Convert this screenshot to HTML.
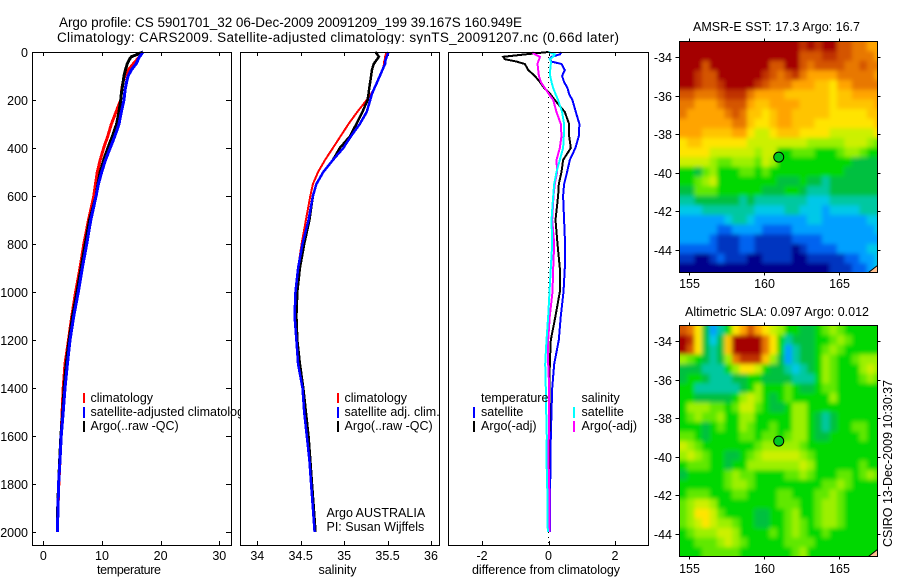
<!DOCTYPE html>
<html>
<head>
<meta charset="utf-8">
<title>Argo profile</title>
<style>
html,body{margin:0;padding:0;background:#fff;}
svg{display:block;}
text{font-family:"Liberation Sans",sans-serif;font-size:12.5px;fill:#000;}
.crisp{shape-rendering:crispEdges;}
</style>
</head>
<body>
<svg id="fig" width="900" height="580" viewBox="0 0 900 580" xmlns="http://www.w3.org/2000/svg">
  <defs>
    <clipPath id="clip-sst"><rect x="679.5" y="41.5" width="198" height="231"/></clipPath>
    <clipPath id="clip-sla"><rect x="679.5" y="325.5" width="198" height="231"/></clipPath>
    <filter id="soften" x="-10%" y="-10%" width="120%" height="120%"><feGaussianBlur stdDeviation="2"/></filter>
  </defs>
  <rect x="0" y="0" width="900" height="580" fill="#fff"/>
  <text x="59" y="27" style="font-size:13.5px" textLength="463" lengthAdjust="spacing">Argo profile: CS 5901701_32 06-Dec-2009 20091209_199 39.167S 160.949E</text>
  <text x="57" y="42" style="font-size:13.5px" textLength="562" lengthAdjust="spacing">Climatology: CARS2009. Satellite-adjusted climatology: synTS_20091207.nc (0.66d later)</text>

  <g id="p1"></g>
  <g>
    <rect x="83" y="393" width="2" height="10" fill="#f00"/>
    <rect x="83" y="407" width="2" height="11" fill="#00f"/>
    <rect x="83" y="421" width="2" height="11" fill="#000"/>
    <text x="90.5" y="402">climatology</text>
    <text x="90.5" y="416">satellite-adjusted climatology</text>
    <text x="90.5" y="430">Argo(..raw -QC)</text>
  </g>
  <rect x="240" y="44" width="200" height="505" fill="#fff"/>

  <g id="p2"></g>
  <g>
    <rect x="337" y="393" width="2" height="10" fill="#f00"/>
    <rect x="337" y="407" width="2" height="11" fill="#00f"/>
    <rect x="337" y="421" width="2" height="11" fill="#000"/>
    <text x="344.5" y="402">climatology</text>
    <text x="344.5" y="416">satellite adj. clim.</text>
    <text x="344.5" y="430">Argo(..raw -QC)</text>
    <text x="326.5" y="517">Argo AUSTRALIA</text>
    <text x="326.5" y="531">PI: Susan Wijffels</text>
  </g>

  <g id="p3"></g>
  <g>
    <text x="481" y="402">temperature</text>
    <rect x="473" y="407" width="2" height="11" fill="#00f"/>
    <text x="481" y="416">satellite</text>
    <rect x="473" y="421" width="2" height="11" fill="#000"/>
    <text x="481" y="430">Argo(-adj)</text>
    <text x="581.5" y="402">salinity</text>
    <rect x="573" y="407" width="2" height="11" fill="#0ff"/>
    <text x="581.5" y="416">satellite</text>
    <rect x="573" y="421" width="2" height="11" fill="#f0f"/>
    <text x="581.5" y="430">Argo(-adj)</text>
  </g>

  <g id="m1"></g>
  <g id="m2"></g>
  <text x="776.5" y="31" text-anchor="middle" textLength="167">AMSR-E SST: 17.3 Argo: 16.7</text>
  <text x="777" y="316" text-anchor="middle" textLength="184">Altimetric SLA: 0.097 Argo: 0.012</text>
  <text transform="translate(892,547) rotate(-90)" textLength="167">CSIRO 13-Dec-2009 10:30:37</text>
</svg>
<script>
// Shared depth axis
const depths = [0,10,20,30,40,50,75,100,125,150,175,200,250,300,350,400,450,500,550,600,700,800,900,1000,1100,1200,1300,1400,1500,1600,1700,1800,1900,2000];
const depthTicks = [0,200,400,600,800,1000,1200,1400,1600,1800,2000];

// Temperature panel
const tempTicks = [0,10,20,30];
const tempClim = [17,16.7,16.4,16,15.7,15.3,14.5,13.9,13.6,13.4,13.3,13.2,12.4,11.6,11,10.3,9.7,9.2,8.9,8.6,7.7,6.9,6.25,5.5,4.85,4.3,3.7,3.4,3.2,3.05,2.85,2.65,2.5,2.4];
const tempArgo = [17,16,15,14.7,14.5,14.3,14,13.75,13.6,13.45,13.3,13.2,12.9,12.5,11.8,11,10.3,9.7,9.3,9,7.9,7.15,6.45,5.75,5,4.4,3.9,3.55,3.3,3,2.8,2.6,2.45,2.4];
const tempSat = [17,16.7,16.4,16.2,16,15.8,15,14.45,14.2,14,13.85,13.75,13.3,12.9,12.2,11.4,10.6,9.95,9.4,9,8.1,7.4,6.65,5.96,5.2,4.55,4.1,3.7,3.4,3.05,2.85,2.6,2.5,2.4];

// Salinity panel
const salTicks = [34,34.5,35,35.5,36];
const salClim = [35.48,35.48,35.47,35.47,35.46,35.46,35.44,35.41,35.38,35.35,35.31,35.26,35.15,35.05,34.96,34.87,34.78,34.7,34.64,34.61,34.56,34.51,34.47,34.44,34.43,34.45,34.47,34.52,34.54,34.57,34.6,34.62,34.64,34.66];
const salArgo = [35.36,35.38,35.4,35.38,35.36,35.34,35.32,35.31,35.3,35.29,35.28,35.27,35.21,35.14,35.07,34.95,34.87,34.76,34.68,34.64,34.6,34.54,34.49,34.46,34.45,34.46,34.49,34.53,34.56,34.59,34.61,34.63,34.65,34.67];
const salSat = [35.51,35.5,35.49,35.48,35.47,35.47,35.44,35.41,35.38,35.35,35.32,35.3,35.26,35.18,35.08,34.99,34.87,34.76,34.68,34.64,34.59,34.52,34.47,34.44,34.43,34.45,34.47,34.52,34.54,34.57,34.6,34.62,34.64,34.66];

// Difference panel
const diffTicks = [-2,0,2];
const diffTempSat = [0.39,0.34,0.09,0.04,0.09,0.39,0.49,0.41,0.47,0.57,0.62,0.72,0.82,0.93,0.91,0.81,0.64,0.56,0.47,0.44,0.47,0.5,0.49,0.45,0.37,0.31,0.17,0.11,0.09,0.07,0.06,0.05,0.05,0.04];
const diffTempArgo = [0,-0.71,-1.36,-1.31,-0.96,-0.71,-0.61,-0.41,-0.26,-0.13,0.05,0.19,0.49,0.62,0.62,0.67,0.44,0.39,0.31,0.29,0.21,0.27,0.34,0.34,0.21,0.07,0.04,0.03,0.03,0.02,0.02,0.01,0.01,0];
const diffSalArgo = [-0.49,-0.41,-0.26,-0.28,-0.31,-0.33,-0.31,-0.29,-0.23,-0.11,0.01,0.14,0.24,0.37,0.39,0.34,0.24,0.26,0.19,0.15,0.11,0.17,0.14,0.12,0.04,-0.01,-0.01,0.02,0.02,0.01,0,0.02,0.03,0.03];
const diffSalSat = [0,0.19,0.14,0.04,0.07,0.07,0.05,0.05,0.09,0.14,0.21,0.29,0.41,0.47,0.46,0.44,0.34,0.24,0.17,0.14,0.09,0.11,0.07,0.03,-0.01,-0.06,-0.1,-0.08,-0.07,-0.05,-0.06,-0.04,-0.03,-0.02];

// Map axes
const lonTicks = [155,160,165];
const latTicks = [-34,-36,-38,-40,-42,-44];
const floatLon = [160.949];
const floatLat = [-39.167];

// Colour scale, by level
const levelColors = ['#00008c','#0034c0','#0064f0','#00a0ff','#00c8e8','#00c8a0','#00c040','#00d800','#60e800','#9cf000','#ccf000','#ffe400','#ffc400','#ffa400','#e87800','#d45400','#c03000','#a40000'];

// SST levels, 0.5 degree cells, north to south
const sstLevels = [
[17,17,17,17,17,17,17,17,17,17,17,17,17,17,17,17,16,17,16,17,17,15,15,14,14,13,13],
[17,17,17,17,17,17,17,17,17,17,17,17,17,17,17,17,15,15,15,16,16,15,15,14,14,14,13],
[17,17,17,15,17,17,17,17,17,17,17,17,15,15,17,17,15,14,15,15,15,15,14,14,15,14,14],
[17,17,16,15,15,17,17,17,17,17,17,16,15,14,15,16,14,13,13,13,13,14,14,14,14,14,13],
[17,17,16,15,15,16,17,17,17,17,16,15,14,14,14,13,13,13,12,12,11,13,13,14,14,14,14],
[15,15,14,14,14,15,16,16,16,14,13,13,13,13,12,12,12,12,12,12,11,12,12,13,13,13,13],
[14,14,13,13,13,14,15,15,15,13,12,12,13,13,13,13,12,12,12,12,11,12,12,12,12,12,13],
[14,13,13,13,13,13,14,15,14,12,12,11,12,13,13,12,12,12,12,12,11,11,11,11,11,12,12],
[13,13,13,13,13,13,13,14,14,12,11,11,12,13,13,12,12,12,11,11,11,11,11,11,11,11,12],
[13,13,13,12,12,12,12,13,13,11,10,10,11,12,12,12,11,11,11,11,10,10,10,10,10,10,11],
[11,12,12,11,11,11,11,11,11,10,10,10,10,10,10,10,10,9,9,9,9,9,10,10,10,9,8],
[11,11,11,11,10,10,10,10,10,10,9,10,10,7,7,8,8,8,7,7,7,8,9,9,8,7,7],
[10,10,10,10,9,8,8,9,9,9,8,10,9,7,7,7,7,7,7,7,7,7,7,6,6,6,6],
[7,7,6,8,9,7,7,7,8,8,7,8,7,7,7,7,7,7,7,7,7,7,6,6,6,6,6],
[7,7,8,9,10,7,7,7,7,7,7,7,7,6,6,6,7,6,6,5,6,6,6,6,6,6,6],
[6,6,8,8,8,7,7,7,7,7,7,6,6,6,7,7,6,5,5,5,6,6,6,6,6,6,6],
[5,5,6,6,6,6,6,6,5,6,5,5,5,5,5,5,5,4,4,4,5,5,5,5,5,5,5],
[4,4,4,5,5,5,5,5,5,5,4,4,4,4,5,5,4,4,4,3,4,4,4,4,5,5,5],
[3,3,3,3,3,3,4,5,5,4,3,3,3,3,3,3,3,4,4,3,3,3,3,3,3,4,4],
[3,3,3,3,3,2,2,3,3,3,3,2,2,2,2,3,3,3,3,3,3,3,3,3,3,3,4],
[3,3,3,3,2,1,1,1,2,2,1,1,1,1,1,2,2,2,2,3,3,3,3,3,3,3,3],
[2,2,2,2,2,1,1,1,2,2,1,1,1,1,1,0,1,2,2,2,2,3,3,3,3,4,4],
[1,1,0,0,1,2,1,1,1,0,0,1,1,1,1,0,0,1,1,1,1,1,2,2,3,3,4],
[0,0,0,0,0,0,0,0,0,0,0,0,0,0,0,0,0,0,0,0,1,1,1,2,2,3,4]
];

// SLA levels, 0.5 degree cells, north to south
const slaLevels = [
[15,14,11,6,3,5,7,11,13,15,13,11,10,9,7,7,6,6,7,8,9,8,7,7,7,7,7],
[17,16,11,6,4,6,12,17,17,17,17,14,11,7,5,6,6,6,7,7,8,9,8,7,7,7,7],
[17,15,11,6,5,6,12,17,17,17,17,14,11,7,3,5,6,6,7,8,9,8,7,7,7,7,7],
[9,8,7,6,5,6,9,14,16,16,16,12,9,6,3,5,6,6,7,9,8,7,7,8,9,9,9],
[6,6,6,5,5,5,7,9,11,11,10,7,6,6,5,4,5,6,7,9,8,7,7,7,9,10,9],
[6,7,7,6,5,5,5,6,6,7,7,6,6,6,6,5,5,5,7,9,8,7,7,7,8,9,8],
[7,7,5,5,5,5,5,5,6,7,9,7,7,7,8,7,6,6,7,8,8,7,7,7,7,7,7],
[7,7,6,6,6,6,6,7,9,10,9,7,6,7,8,7,7,7,7,7,9,7,7,7,7,7,7],
[7,9,9,9,8,8,7,8,10,10,8,7,6,6,7,9,9,7,7,7,7,7,7,7,7,7,7],
[7,8,9,8,8,9,7,7,9,9,7,7,7,7,7,9,9,7,6,5,6,7,7,7,7,7,7],
[7,7,7,6,7,8,7,7,9,8,7,7,8,7,7,9,9,7,6,5,6,7,7,8,8,7,7],
[8,8,7,6,7,7,7,7,8,8,7,8,8,7,8,9,9,7,6,6,7,7,7,7,8,7,7],
[10,9,8,7,7,7,7,7,7,7,8,9,9,9,9,9,8,7,7,7,7,7,7,7,7,7,7],
[9,10,9,8,7,7,6,6,7,8,9,10,10,10,10,10,9,8,7,7,7,7,7,7,7,7,7],
[7,8,8,8,7,7,6,7,7,9,9,9,9,9,9,9,10,9,7,7,7,7,7,7,8,7,7],
[6,7,7,7,7,7,8,9,8,8,7,7,7,7,8,8,9,8,7,7,7,8,8,7,8,9,8],
[7,7,7,7,7,7,8,9,9,8,7,7,7,7,7,7,7,7,7,8,8,9,8,7,7,7,7],
[7,8,8,8,7,7,7,8,8,7,7,7,7,8,8,7,7,7,8,8,9,8,7,7,7,7,7],
[8,9,10,10,9,7,7,7,7,7,7,7,7,8,8,8,7,7,8,9,9,8,7,7,7,7,7],
[8,9,11,11,10,8,7,7,7,7,6,6,7,7,8,9,7,7,8,9,9,8,7,7,7,7,7],
[8,9,10,11,10,9,9,8,7,7,6,6,7,7,8,9,8,7,8,9,9,8,7,7,7,7,7],
[7,8,9,9,9,10,10,9,7,7,7,7,8,7,8,9,8,7,7,8,7,7,7,7,7,7,7],
[7,7,8,8,8,9,10,9,8,7,7,7,7,7,8,8,8,8,7,7,7,7,7,7,7,7,7],
[7,7,7,8,8,8,8,8,7,7,7,7,7,7,7,8,9,7,7,7,7,7,7,7,7,7,7]
];

const NS = 'http://www.w3.org/2000/svg';
function make(parent, tag, attrs, text) {
  const el = document.createElementNS(NS, tag);
  for (const k in attrs) el.setAttribute(k, attrs[k]);
  if (text !== undefined) el.textContent = text;
  parent.appendChild(el);
  return el;
}

function linear(d0, d1, r0, r1) {
  return v => r0 + (v - d0) * (r1 - r0) / (d1 - d0);
}

const yDepth = linear(0, 2000, 52, 532);
const PANEL_TOP = 52, PANEL_BOTTOM = 545;

function drawPanelFrame(g, left, right, xScale, ticks, labelFn) {
  const bg = make(g, 'rect', {x:left+0.5, y:PANEL_TOP+0.5, width:right-left, height:PANEL_BOTTOM-PANEL_TOP, fill:'#fff', stroke:'none'});
  
  
  ticks.forEach(t => {
    const x = Math.round(xScale(t)) + 0.5;
    const top = make(g, 'line', {x1:x, x2:x, y1:PANEL_TOP, y2:PANEL_TOP+4, stroke:'#000', class:'crisp'});
    
    
    const bot = make(g, 'line', {x1:x, x2:x, y1:PANEL_BOTTOM, y2:PANEL_BOTTOM-4, stroke:'#000', class:'crisp'});
    
    
    const lab = make(g, 'text', {x:xScale(t), y:560, 'text-anchor':'middle'}, labelFn(t));
    
    
  });
}

function drawPanelBorder(g, left, right) {
  const r = make(g, 'rect', {x:left+0.5, y:PANEL_TOP+0.5, width:right-left, height:PANEL_BOTTOM-PANEL_TOP, fill:'none', stroke:'#000', class:'crisp'});
  
  
}

function drawProfile(g, name, values, xScale, color, width) {
  const pts = values.map((v, i) => xScale(v).toFixed(1) + ',' + yDepth(depths[i]).toFixed(1)).join(' ');
  const line = make(g, 'polyline', {points:pts, fill:'none', stroke:color, 'stroke-width':width, class:'crisp'});
  
  
}

function axisLabel(g, name, x, text, width) {
  const t = make(g, 'text', {x:x, y:574, 'text-anchor':'middle', textLength:width}, text);
  
  
}

// Temperature
(function () {
  const g = document.getElementById('p1');
  const x = linear(0, 30, 43.3, 219.3);
  drawPanelFrame(g, 32, 231, x, tempTicks, String);
  depthTicks.forEach(d => {
    const y = Math.round(yDepth(d)) + 0.5;
    const a = make(g, 'line', {x1:32, x2:36, y1:y, y2:y, stroke:'#000', class:'crisp'});
    
    
    const b = make(g, 'line', {x1:231, x2:226, y1:y, y2:y, stroke:'#000', class:'crisp'});
    
    
    const t = make(g, 'text', {x:28, y:y+4.5, 'text-anchor':'end'}, String(d));
    
    
  });
  drawProfile(g, 'temperature-climatology-line', tempClim, x, '#f00', 3);
  drawProfile(g, 'temperature-argo-line', tempArgo, x, '#000', 3);
  drawProfile(g, 'temperature-satellite-line', tempSat, x, '#00f', 3);
  drawPanelBorder(g, 32, 231);
  axisLabel(g, 'temperature-axis-title', 129, 'temperature', 64);
})();

// Salinity
(function () {
  const g = document.getElementById('p2');
  const x = linear(34, 36, 257.3, 431);
  drawPanelFrame(g, 240, 439, x, salTicks, String);
  drawProfile(g, 'salinity-climatology-line', salClim, x, '#f00', 2);
  drawProfile(g, 'salinity-argo-line', salArgo, x, '#000', 2.5);
  drawProfile(g, 'salinity-satellite-line', salSat, x, '#00f', 2.5);
  drawPanelBorder(g, 240, 439);
  axisLabel(g, 'salinity-axis-title', 337.5, 'salinity', 38);
})();

// Difference
(function () {
  const g = document.getElementById('p3');
  const x = linear(-2, 2, 482, 615);
  drawPanelFrame(g, 448, 648, x, diffTicks, String);
  const zero = make(g, 'line', {x1:x(0), x2:x(0), y1:PANEL_TOP, y2:PANEL_BOTTOM, stroke:'#000', 'stroke-dasharray':'1 4', class:'crisp'});
  
  
  drawProfile(g, 'diff-temperature-satellite-line', diffTempSat, x, '#00f', 2);
  drawProfile(g, 'diff-temperature-argo-line', diffTempArgo, x, '#000', 2);
  drawProfile(g, 'diff-salinity-argo-line', diffSalArgo, x, '#f0f', 2);
  drawProfile(g, 'diff-salinity-satellite-line', diffSalSat, x, '#0ff', 2);
  drawPanelBorder(g, 448, 648);
  axisLabel(g, 'difference-axis-title', 546, 'difference from climatology', 148);
})();

// Maps
const MAP_LEFT = 679.5, MAP_RIGHT = 877.5;
const LON_WEST = 154.33, CELL_DEG = 0.5, BLEED = 10;
function drawMap(g, levels, top, clipId, labelY) {
  const bottom = top + 231;
  const xLon = linear(155, 165, 689.5, 839.5);
  const yLat = linear(-34, -44, top + 16, top + 208.8);
  const latNorth = -34 + 16 / 19.28;
  const clipper = make(g, 'g', {'clip-path':'url(#' + clipId + ')'});
  
  
  const cells = make(clipper, 'g', {filter:'url(#soften)'});
  
  
  levels.forEach((row, r) => {
    row.forEach((v, c) => {
      let x0 = xLon(LON_WEST + c * CELL_DEG), x1 = xLon(LON_WEST + (c + 1) * CELL_DEG);
      let y0 = yLat(latNorth - r * CELL_DEG), y1 = yLat(latNorth - (r + 1) * CELL_DEG);
      if (c === 0) x0 -= BLEED;
      if (c === row.length - 1) x1 += BLEED;
      if (r === 0) y0 -= BLEED;
      if (r === levels.length - 1) y1 += BLEED;
      const idx = Math.max(0, Math.min(levelColors.length - 1, Math.round(v)));
      const cell = make(cells, 'rect', {x:x0.toFixed(2), y:y0.toFixed(2), width:(x1 - x0 + 0.4).toFixed(2), height:(y1 - y0 + 0.4).toFixed(2), fill:levelColors[idx]});
      
      
    });
  });
  const land = make(g, 'polygon', {points:(MAP_RIGHT-9)+','+bottom+' '+MAP_RIGHT+','+bottom+' '+MAP_RIGHT+','+(bottom-7), fill:'#ffc090', stroke:'#000', 'stroke-width':1});
  
  
  const border = make(g, 'rect', {x:MAP_LEFT, y:top, width:MAP_RIGHT-MAP_LEFT, height:231, fill:'none', stroke:'#000', class:'crisp'});
  
  
  lonTicks.forEach(l => {
    const x = Math.round(xLon(l) - 0.5) + 0.5;
    const a = make(g, 'line', {x1:x, x2:x, y1:top, y2:top-3, stroke:'#000', class:'crisp'});
    
    
    const b = make(g, 'line', {x1:x, x2:x, y1:bottom, y2:bottom+3, stroke:'#000', class:'crisp'});
    
    
    const t = make(g, 'text', {x:x, y:labelY, 'text-anchor':'middle'}, String(l));
    
    
  });
  latTicks.forEach(l => {
    const y = Math.round(yLat(l) - 0.5) + 0.5;
    const a = make(g, 'line', {x1:MAP_LEFT, x2:MAP_LEFT-4, y1:y, y2:y, stroke:'#000', class:'crisp'});
    
    
    const b = make(g, 'line', {x1:MAP_RIGHT, x2:MAP_RIGHT+3, y1:y, y2:y, stroke:'#000', class:'crisp'});
    
    
    const t = make(g, 'text', {x:672, y:y+4.5, 'text-anchor':'end'}, String(l));
    
    
  });
  const marker = make(g, 'circle', {cx:xLon(floatLon[0]), cy:yLat(floatLat[0]), r:5, fill:'#00c820', stroke:'#000', 'stroke-width':1});
  
  
}
drawMap(document.getElementById('m1'), sstLevels, 41.5, 'clip-sst', 288);
drawMap(document.getElementById('m2'), slaLevels, 325.5, 'clip-sla', 573);
</script>
</body>
</html>
